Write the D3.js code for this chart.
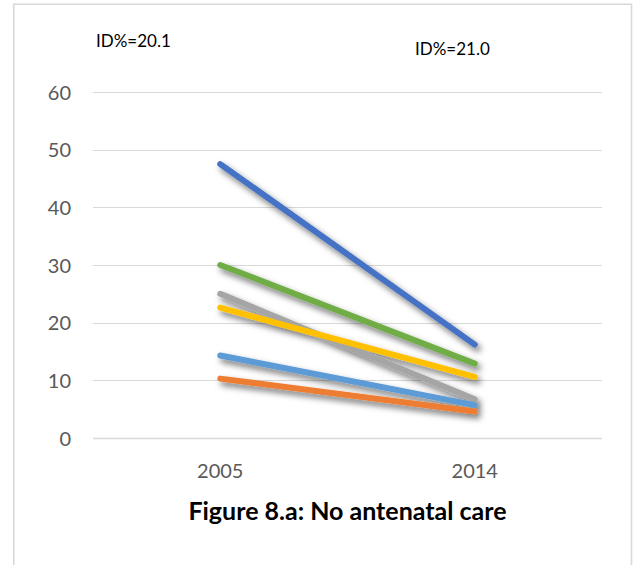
<!DOCTYPE html>
<html>
<head>
<meta charset="utf-8">
<script src="https://cdn.jsdelivr.net/npm/d3@7"></script>
<style>
  html, body { margin: 0; padding: 0; background: #fff; }
  svg { display: block; }
</style>
</head>
<body>
<svg id="chart" width="633" height="565"></svg>
<script>
// Share of women with no antenatal care, by group, 2005 vs 2014
const years = ["2005", "2014"];
const seriesNames = ["Group 1", "Group 2", "Group 3", "Group 4", "Group 5", "Group 6"];
const values2005 = [47.5, 10.3, 25.0, 22.6, 14.3, 30.0];
const values2014 = [16.2, 4.6, 6.7, 10.6, 5.7, 12.9];
const seriesColors = ["#4472C4", "#ED7D31", "#A5A5A5", "#FFC000", "#5B9BD5", "#70AD47"];
const yTicks = [0, 10, 20, 30, 40, 50, 60];
const idLabels = ["ID%=20.1", "ID%=21.0"];
const title = "Figure 8.a: No antenatal care";

const svg = d3.select("#chart");
const plot = { left: 93, right: 602, top: 92, bottom: 438 };
const font = "Lato, 'Noto Sans', sans-serif";

// Outer chart frame
svg.append("rect")
  .attr("x", 13.75).attr("y", 4.25)
  .attr("width", 631.5 - 13.75).attr("height", 600)
  .attr("fill", "#fff").attr("stroke", "#d9d9d9").attr("stroke-width", 1.6);

const defs = svg.append("defs");
const f = defs.append("filter").attr("id", "shadow")
  .attr("x", "-20%").attr("y", "-20%").attr("width", "140%").attr("height", "160%");
f.append("feDropShadow")
  .attr("dx", 3).attr("dy", 4).attr("stdDeviation", 3)
  .attr("flood-color", "#000").attr("flood-opacity", 0.55);

const x = d3.scaleBand().domain(years).range([plot.left, plot.right]);
const y = d3.scaleLinear().domain([0, 60]).range([plot.bottom, plot.top]);

// Horizontal gridlines
svg.append("g").selectAll("line").data(yTicks).join("line")
  .attr("x1", plot.left).attr("x2", plot.right)
  .attr("y1", d => Math.round(y(d)) + 0.5).attr("y2", d => Math.round(y(d)) + 0.5)
  .attr("stroke", "#d9d9d9").attr("stroke-width", d => d === 0 ? 1.6 : 1.2);

// Y axis labels
const yAxis = d3.axisLeft(y).tickValues(yTicks).tickSize(0).tickPadding(0);
const gy = svg.append("g").attr("transform", `translate(71,0)`).call(yAxis);
gy.select(".domain").remove();
gy.selectAll("text")
  .attr("font-family", font)
  .attr("font-size", 20).attr("fill", "#595959").attr("dy", "0.36em");

// X axis labels
const xAxis = d3.axisBottom(x).tickSize(0).tickPadding(0);
const gx = svg.append("g").attr("transform", `translate(0,462)`).call(xAxis);
gx.select(".domain").remove();
gx.selectAll("text")
  .attr("font-family", font)
  .attr("font-size", 20).attr("fill", "#595959").attr("dy", "0.78em");

// Series lines
const rows = seriesNames.map((name, i) => ({
  name, color: seriesColors[i],
  pts: [[years[0], values2005[i]], [years[1], values2014[i]]]
}));
const line = d3.line()
  .x(d => x(d[0]) + x.bandwidth() / 2)
  .y(d => y(d[1]));
svg.append("g").attr("filter", "url(#shadow)")
  .selectAll("path").data(rows).join("path")
  .attr("d", d => line(d.pts))
  .attr("fill", "none")
  .attr("stroke", d => d.color)
  .attr("stroke-width", 6)
  .attr("stroke-linecap", "round");

// Index of dissimilarity annotations
svg.append("text").attr("x", 96).attr("y", 47)
  .attr("font-family", font).attr("font-size", 17)
  .attr("fill", "#000").text(idLabels[0]);
svg.append("text").attr("x", 415).attr("y", 55)
  .attr("font-family", font).attr("font-size", 17)
  .attr("fill", "#000").text(idLabels[1]);

// Figure caption
svg.append("text").attr("x", (plot.left + plot.right) / 2).attr("y", 520)
  .attr("text-anchor", "middle")
  .attr("font-family", font).attr("font-size", 25)
  .attr("font-weight", "bold").attr("fill", "#000").text(title);
</script>
</body>
</html>
